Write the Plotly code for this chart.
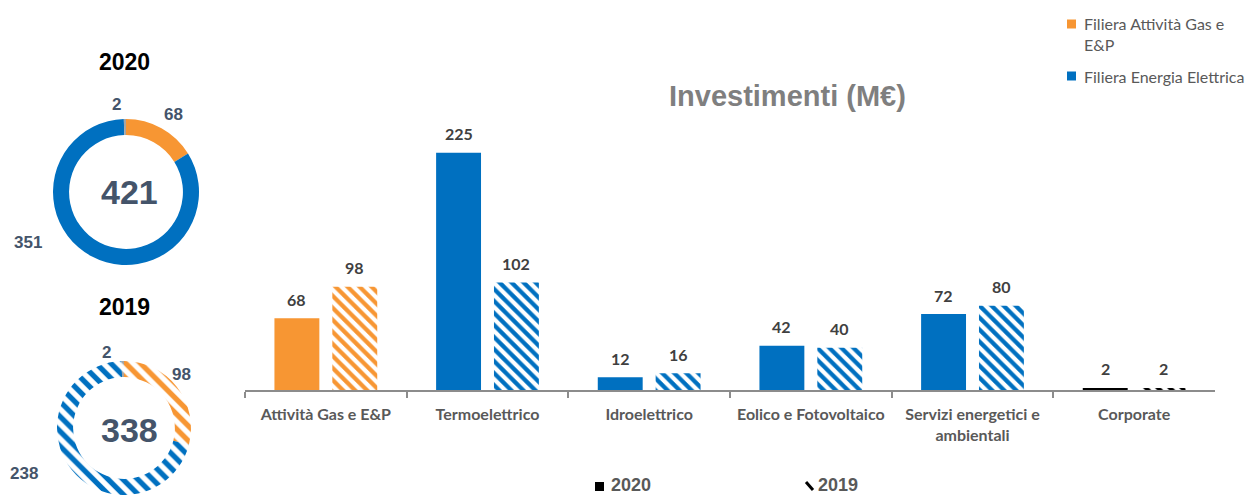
import plotly.graph_objects as go

# ---- data ----
categories = ["Attività Gas e E&P", "Termoelettrico", "Idroelettrico",
              "Eolico e Fotovoltaico", "Servizi energetici e<br>ambientali", "Corporate"]
inv_2020 = [68, 225, 12, 42, 72, 2]
inv_2019 = [98, 102, 16, 40, 80, 2]

donut_labels = ["Filiera Attività Gas e E&P", "Filiera Energia Elettrica", "Corporate"]
donut_2020 = [68, 351, 2]
donut_2019 = [98, 238, 2]
total_2020 = 421
total_2019 = 338

# ---- styling ----
ORANGE = "#F79633"
BLUE = "#0070C0"
GREY = "#A5A5A5"
BLACK = "#000000"
SLATE = "#44546A"
TXT = "#595959"
ARIAL = "Liberation Sans"
CAL = "Lato"

cat_colors = [ORANGE, BLUE, BLUE, BLUE, BLUE, BLACK]
donut_colors = [ORANGE, BLUE, GREY]

BARGAP = 0.284
BARGROUPGAP = 0.224

fig = go.Figure()

fig.add_trace(go.Bar(
    name="2020", x=categories, y=inv_2020,
    marker=dict(color=cat_colors, line=dict(width=0)),
    hoverinfo="x+y",
))
fig.add_trace(go.Bar(
    name="2019", x=categories, y=inv_2019,
    marker=dict(
        color=cat_colors,
        line=dict(width=0),
        pattern=dict(shape="\\", fgcolor=cat_colors, bgcolor="white", fgopacity=1,
                     size=8.5, solidity=0.5, fillmode="replace"),
    ),
    hoverinfo="x+y",
))

# value labels above the bars
slot = (1 - BARGAP) / 2
for i, (a, b) in enumerate(zip(inv_2020, inv_2019)):
    for xpos, val in ((i - slot / 2, a), (i + slot / 2, b)):
        fig.add_annotation(x=xpos, y=val, xref="x", yref="y", text=str(val),
                           showarrow=False, yanchor="middle", yshift=19,
                           font=dict(family=CAL, size=16, color="#404040", weight="bold"))

# donuts
fig.add_trace(go.Pie(
    labels=donut_labels, values=donut_2020, hole=0.78, sort=False,
    direction="clockwise", rotation=0, textinfo="none",
    marker=dict(colors=donut_colors, line=dict(width=0)),
    domain=dict(x=[53 / 1249, 199 / 1249], y=[1 - 265 / 495, 1 - 119 / 495]),
    showlegend=False,
))
fig.add_trace(go.Pie(
    labels=donut_labels, values=donut_2019, hole=0.76, sort=False,
    direction="clockwise", rotation=0, textinfo="none",
    marker=dict(colors=donut_colors, line=dict(width=0),
                pattern=dict(shape="\\", fgcolor=donut_colors, bgcolor="white", fgopacity=1,
                             size=10.5, solidity=0.5, fillmode="replace")),
    domain=dict(x=[57 / 1249, 191 / 1249], y=[0, 1 - 361 / 495]),
    showlegend=False,
))


def paper_text(x, y, text, size, color, family=ARIAL, bold=True, xanchor="center"):
    fig.add_annotation(x=x / 1249, y=1 - y / 495, xref="paper", yref="paper",
                       text=text, showarrow=False, xanchor=xanchor, yanchor="middle",
                       font=dict(family=family, size=size, color=color,
                                 weight="bold" if bold else "normal"))


# donut captions
paper_text(124, 62, "2020", 23, "#000000")
paper_text(129, 192, str(total_2020), 34, SLATE)
paper_text(116, 104, str(donut_2020[2]), 17, SLATE)
paper_text(173, 115, str(donut_2020[0]), 17, SLATE)
paper_text(28, 242, str(donut_2020[1]), 17, SLATE)

paper_text(124, 307, "2019", 23, "#000000")
paper_text(129, 430, str(total_2019), 34, SLATE)
paper_text(107, 352, str(donut_2019[2]), 17, SLATE)
paper_text(182, 374, str(donut_2019[0]), 17, SLATE)
paper_text(24, 473, str(donut_2019[1]), 17, SLATE)

# chart title
paper_text(787, 96, "Investimenti (M€)", 29, "#7F7F7F")

# top-right legend
legend_top = [(ORANGE, "Filiera Attività Gas e<br>E&P", 34), (BLUE, "Filiera Energia Elettrica", 76)]
for col, txt, yc in legend_top:
    sq_y = yc - 10 if "<br>" in txt else yc
    fig.add_shape(type="rect", xref="paper", yref="paper",
                  x0=1067 / 1249, x1=1076 / 1249,
                  y0=1 - (sq_y + 4.5) / 495, y1=1 - (sq_y - 4.5) / 495,
                  fillcolor=col, line=dict(width=0))
    fig.add_annotation(x=1082 / 1249, y=1 - yc / 495, xref="paper", yref="paper",
                       text=txt, showarrow=False, xanchor="left", yanchor="middle", align="left",
                       font=dict(family=CAL, size=16, color=TXT))

# bottom legend
fig.add_shape(type="rect", xref="paper", yref="paper",
              x0=595 / 1249, x1=604 / 1249, y0=1 - 491 / 495, y1=1 - 482 / 495,
              fillcolor=BLACK, line=dict(width=0))
paper_text(609, 485, "2020", 18, TXT, xanchor="left")
fig.add_shape(type="line", xref="paper", yref="paper",
              x0=806 / 1249, x1=813 / 1249, y0=1 - 482 / 495, y1=1 - 490 / 495,
              line=dict(color=BLACK, width=3))
paper_text(816, 485, "2019", 18, TXT, xanchor="left")

fig.update_layout(
    width=1249, height=495,
    margin=dict(l=0, r=0, t=0, b=0),
    paper_bgcolor="white", plot_bgcolor="white",
    barmode="group", bargap=BARGAP, bargroupgap=BARGROUPGAP,
    showlegend=False,
    xaxis=dict(domain=[245 / 1249, 1215 / 1249], type="category",
               showline=True, linecolor="#8C8C8C", linewidth=1.5,
               ticks="outside", tickson="boundaries", ticklen=6, tickcolor="#8C8C8C",
               tickwidth=1.5, showgrid=False, zeroline=False,
               tickfont=dict(family=CAL, size=16, color=TXT, weight="bold"),
               ticklabelstandoff=9),
    yaxis=dict(domain=[1 - 390 / 495, 1 - 100 / 495], range=[0, 275],
               visible=False, showgrid=False, zeroline=False),
)

fig.write_html("out.html")
